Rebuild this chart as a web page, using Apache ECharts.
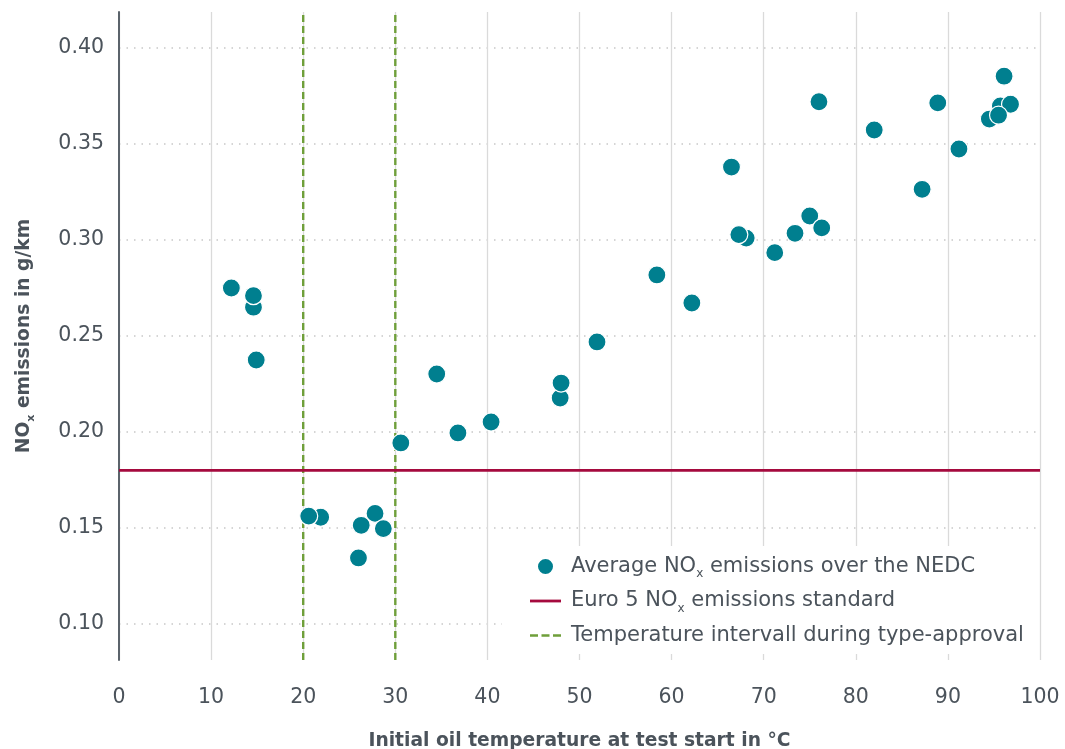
<!DOCTYPE html>
<html>
<head>
<meta charset="utf-8">
<script src="https://cdn.jsdelivr.net/npm/echarts@6/dist/echarts.min.js"></script>
<style>
  html, body { margin: 0; padding: 0; background: #ffffff; }
  #chart { width: 1065px; height: 749px; }
</style>
</head>
<body>
<div id="chart"></div>
<script>
// Initial oil temperature (°C) and average NOx over the NEDC (g/km)
const oilTemp = [12.2, 14.6, 14.6, 14.9, 21.9, 20.6, 26.0, 26.3, 27.8, 28.7,
  30.6, 34.5, 36.8, 40.4, 47.9, 48.0, 51.9, 58.4, 62.2, 66.5,
  68.1, 67.3, 71.2, 73.4, 75.0, 76.0, 76.3, 82.0, 87.2, 88.9,
  91.2, 96.1, 95.7, 96.8, 94.5, 95.5];
const noxAvg = [0.275, 0.265, 0.271, 0.2375, 0.1556, 0.1562, 0.1344, 0.1514, 0.1576, 0.1497,
  0.1943, 0.2302, 0.1995, 0.2052, 0.2177, 0.2255, 0.2469, 0.2818, 0.2672, 0.338,
  0.301, 0.3028, 0.2934, 0.3035, 0.3125, 0.372, 0.3063, 0.3573, 0.3264, 0.3714,
  0.3474, 0.3853, 0.3698, 0.3707, 0.363, 0.365];

const euro5Limit = 0.18;               // Euro 5 NOx limit, g/km
const typeApprovalRange = [20, 30];     // oil temperature window, °C
const xRange = [0, 100];
const yRange = [0.08125, 0.41875];
const xTickStep = 10;
const yTicks = [0.10, 0.15, 0.20, 0.25, 0.30, 0.35, 0.40];

const nameScatter = 'Average NOx emissions over the NEDC';
const nameLimit = 'Euro 5 NOx emissions standard';
const nameWindow = 'Temperature intervall during type-approval';

const FONT = 'DejaVu Sans';
const TXT = '#4b535b';
const TEAL = '#007f8f';
const CRIMSON = '#a50a3e';
const GREEN = '#6f9f3a';

const subRich = {
  n: { fontFamily: FONT, fontSize: 21, color: TXT },
  s: { fontFamily: FONT, fontSize: 12, color: TXT, padding: [15, 0, 0, 0] }
};

// legend glyphs: a solid bar and a dashed bar, centred in a 31x17 box
const iconSolid = 'path://M0,0M31,17M0,7.1h31v2.8h-31z';
const iconDashed = 'path://M0,0M31,17M0,7.2h8v2.5h-8zM11.5,7.2h8v2.5h-8zM23,7.2h8v2.5h-8z';

const scatterData = oilTemp.map((t, i) => [t, noxAvg[i]]);

const chart = echarts.init(document.getElementById('chart'), null, { renderer: 'canvas' });

chart.setOption({
  animation: false,
  backgroundColor: '#ffffff',
  textStyle: { fontFamily: FONT, color: TXT },
  grid: { left: 119, right: 25, top: 12, bottom: 89, containLabel: false, outerBoundsMode: 'none' },
  xAxis: {
    type: 'value',
    min: xRange[0], max: xRange[1], interval: xTickStep,
    name: 'Initial oil temperature at test start in °C',
    nameLocation: 'middle',
    nameGap: 72,
    nameTextStyle: { fontFamily: FONT, fontSize: 18.7, fontWeight: 'bold', color: TXT },
    axisLine: { show: false },
    axisTick: { show: false },
    axisLabel: { fontFamily: FONT, fontSize: 20.5, color: TXT, margin: 27 },
    splitLine: { show: true, lineStyle: { color: '#dadada', width: 1.3, type: 'solid' } }
  },
  yAxis: {
    type: 'value',
    min: yRange[0], max: yRange[1],
    name: '{b|NO}{s|x}{b| emissions in g/km}',
    nameLocation: 'middle',
    nameGap: 82,
    nameTextStyle: {
      rich: {
        b: { fontFamily: FONT, fontSize: 18.7, fontWeight: 'bold', color: TXT },
        s: { fontFamily: FONT, fontSize: 11, fontWeight: 'bold', color: TXT, padding: [14, 0, 0, 0] }
      }
    },
    axisLine: { show: true, onZero: false, lineStyle: { color: '#5b636b', width: 2 } },
    axisTick: { show: false, customValues: yTicks },
    axisLabel: {
      customValues: yTicks,
      fontFamily: FONT, fontSize: 20.5, color: TXT, margin: 15,
      formatter: v => v.toFixed(2)
    },
    splitLine: { show: true, lineStyle: { color: '#c8c8c8', width: 1.5, type: [1.5, 6] } }
  },
  legend: {
    orient: 'vertical',
    left: 502, top: 546,
    backgroundColor: '#ffffff',
    padding: [10, 14, 8, 28],
    itemWidth: 31, itemHeight: 17,
    itemGap: 10.5,
    data: [
      { name: nameScatter, icon: 'circle' },
      { name: nameLimit, icon: iconSolid },
      { name: nameWindow, icon: iconDashed }
    ],
    formatter: name => {
      const parts = name.split('NOx');
      if (parts.length === 2) return '{n|' + parts[0] + 'NO}{s|x}{n|' + parts[1] + '}';
      return '{n|' + name + '}';
    },
    textStyle: { fontFamily: FONT, fontSize: 21, color: TXT, padding: [0, 0, 0, 5], rich: subRich }
  },
  series: [
    {
      name: nameWindow, type: 'line', symbol: 'none', z: 2,
      lineStyle: { color: GREEN, width: 2.4, type: [7, 4] },
      itemStyle: { color: GREEN },
      data: [[typeApprovalRange[0], yRange[0]], [typeApprovalRange[0], yRange[1]]]
    },
    {
      name: nameWindow, type: 'line', symbol: 'none', z: 2,
      lineStyle: { color: GREEN, width: 2.4, type: [7, 4] },
      itemStyle: { color: GREEN },
      data: [[typeApprovalRange[1], yRange[0]], [typeApprovalRange[1], yRange[1]]]
    },
    {
      name: nameLimit, type: 'line', symbol: 'none', z: 3,
      lineStyle: { color: CRIMSON, width: 2.8 },
      itemStyle: { color: CRIMSON },
      data: [[xRange[0], euro5Limit], [xRange[1], euro5Limit]]
    },
    {
      name: nameScatter, type: 'scatter', z: 4,
      symbol: 'circle', symbolSize: 18,
      itemStyle: { color: TEAL, borderColor: '#ffffff', borderWidth: 1.2, opacity: 1 },
      data: scatterData
    }
  ]
});
</script>
</body>
</html>
